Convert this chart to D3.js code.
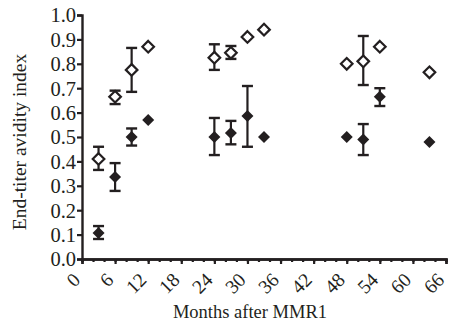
<!DOCTYPE html>
<html>
<head>
<meta charset="utf-8">
<script src="https://cdn.jsdelivr.net/npm/d3@7"></script>
<style>
  body { margin: 0; background: #fff; }
  text { font-family: "Liberation Serif", "Times New Roman", serif; fill: #231f20; }
</style>
</head>
<body>
<div id="chart"></div>
<script>
// months after MMR1
var months = [3, 6, 9, 12, 24, 27, 30, 33, 48, 51, 54, 63];

// open diamonds
var openMean = [0.41, 0.665, 0.775, 0.87, 0.825, 0.845, 0.91, 0.94, 0.80, 0.81, 0.87, 0.765];
var openLo   = [0.365, 0.635, 0.685, null, 0.775, 0.82, null, null, null, 0.713, null, null];
var openHi   = [0.46, 0.69, 0.865, null, 0.88, 0.873, null, null, null, 0.914, null, null];

// filled diamonds
var filledMean = [0.107, 0.336, 0.50, 0.57, 0.50, 0.516, 0.586, 0.50, 0.50, 0.49, 0.665, 0.48];
var filledLo   = [0.082, 0.279, 0.465, null, 0.426, 0.47, 0.46, null, null, 0.426, 0.627, null];
var filledHi   = [0.135, 0.393, 0.535, null, 0.578, 0.566, 0.709, null, null, 0.553, 0.70, null];

var xTicks = [0, 6, 12, 18, 24, 30, 36, 42, 48, 54, 60, 66];
var yTicks = [0, 0.1, 0.2, 0.3, 0.4, 0.5, 0.6, 0.7, 0.8, 0.9, 1.0];

var width = 449, height = 327;
var ink = "#231f20";

var x = d3.scaleLinear().domain([0, 66]).range([82, 446]);
var y = d3.scaleLinear().domain([0, 1]).range([259, 15]);

var svg = d3.select("#chart").append("svg")
  .attr("width", width)
  .attr("height", height);

// build series rows
function rows(mean, lo, hi) {
  return months.map(function(m, i) {
    return {m: m, v: mean[i], lo: lo[i], hi: hi[i]};
  });
}
var series = [
  {name: "open", data: rows(openMean, openLo, openHi)},
  {name: "filled", data: rows(filledMean, filledLo, filledHi)}
];

// y axis
var yAxis = svg.append("g")
  .attr("transform", "translate(" + x(0) + ",0)")
  .call(d3.axisLeft(y).tickValues(yTicks).tickFormat(d3.format(".1f")).tickSize(5).tickPadding(1));
yAxis.selectAll("text").style("font-size", "20.5px").attr("dy", "0.34em");

// x axis, minor ticks every 2 months
var xAxisMinor = svg.append("g")
  .attr("transform", "translate(0," + y(0) + ")")
  .call(d3.axisBottom(x).tickValues(d3.range(0, 67, 2)).tickFormat("").tickSize(3));
var xAxis = svg.append("g")
  .attr("transform", "translate(0," + y(0) + ")")
  .call(d3.axisBottom(x).tickValues(xTicks).tickSize(5));
xAxis.selectAll("text")
  .style("font-size", "19.5px")
  .style("text-anchor", "end")
  .attr("x", 0)
  .attr("y", 0)
  .attr("dy", 0)
  .attr("transform", "translate(-1,22) rotate(-45)");

svg.selectAll(".domain, .tick line")
  .attr("stroke", ink)
  .attr("stroke-width", 2.2);
svg.selectAll(".domain").attr("stroke-width", 2.4);

// error bars
var bars = svg.append("g");
series.forEach(function(s) {
  var withErr = s.data.filter(function(d) { return d.lo != null; });
  bars.selectAll(null).data(withErr).enter().append("line")
    .attr("x1", function(d) { return x(d.m); })
    .attr("x2", function(d) { return x(d.m); })
    .attr("y1", function(d) { return y(d.lo); })
    .attr("y2", function(d) { return y(d.hi); })
    .attr("stroke", ink).attr("stroke-width", 2.2);
  ["lo", "hi"].forEach(function(k) {
    bars.selectAll(null).data(withErr).enter().append("line")
      .attr("x1", function(d) { return x(d.m) - 5.5; })
      .attr("x2", function(d) { return x(d.m) + 5.5; })
      .attr("y1", function(d) { return y(d[k]); })
      .attr("y2", function(d) { return y(d[k]); })
      .attr("stroke", ink).attr("stroke-width", 2.4);
  });
});

function diamond(r) {
  return "M0," + (-r) + "L" + r + ",0L0," + r + "L" + (-r) + ",0Z";
}

// open diamonds
svg.append("g").selectAll("path")
  .data(series[0].data)
  .enter().append("path")
  .attr("d", diamond(5.8))
  .attr("transform", function(d) { return "translate(" + x(d.m) + "," + y(d.v) + ")"; })
  .attr("fill", "#fff")
  .attr("stroke", ink)
  .attr("stroke-width", 2.2);

// filled diamonds
svg.append("g").selectAll("path")
  .data(series[1].data)
  .enter().append("path")
  .attr("d", diamond(6))
  .attr("transform", function(d) { return "translate(" + x(d.m) + "," + y(d.v) + ")"; })
  .attr("fill", ink);

// axis titles
svg.append("text")
  .attr("transform", "translate(26,142) rotate(-90)")
  .style("text-anchor", "middle")
  .style("font-size", "19.5px")
  .text("End-titer avidity index");

svg.append("text")
  .attr("x", 250)
  .attr("y", 318)
  .style("text-anchor", "middle")
  .style("font-size", "18.5px")
  .text("Months after MMR1");
</script>
</body>
</html>
